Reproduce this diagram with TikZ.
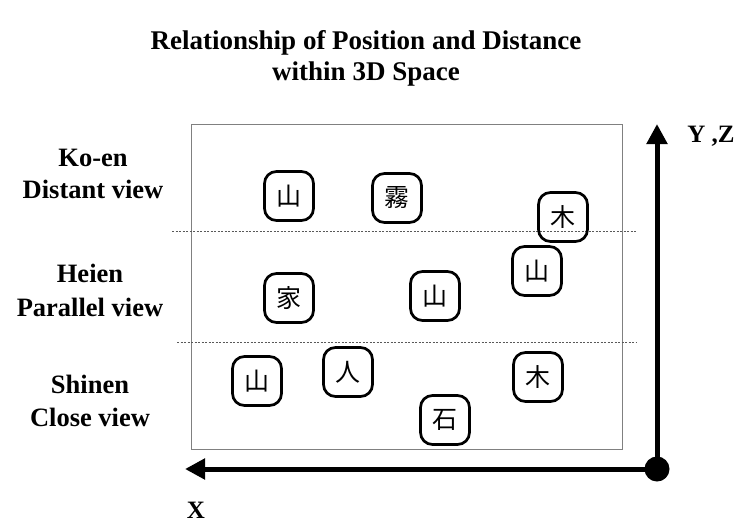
\documentclass[tikz,border=0pt]{standalone}
\usepackage{fontspec}
\setmainfont{Liberation Serif}
\newfontfamily\cjk{Noto Sans CJK JP}
\usetikzlibrary{arrows.meta}
\begin{document}
\begin{tikzpicture}[x=1pt,y=-1pt,
  lbl/.style={font=\fontsize{21}{25}\selectfont\bfseries, align=center, inner sep=0},
  kanji/.style={draw, line width=2.7pt, rounded corners=12pt, minimum width=49pt, minimum height=49pt, inner sep=0, font=\cjk\fontsize{25}{25}\selectfont},
  axis/.style={line width=5pt, -{Triangle[length=20pt,width=20pt]}},
  sep/.style={line width=0.7pt, gray!70!black, dash pattern=on 2pt off 1.5pt}]
\useasboundingbox (0,0) rectangle (740,531);
% title
\node[lbl, font=\fontsize{27}{31}\selectfont\bfseries] (title) at (366,58) {Relationship of Position and Distance\\within 3D Space};
% frame
\node[draw=gray, line width=1pt, minimum width=431pt, minimum height=325pt, inner sep=0] (frame) at (407,286.5) {};
% separators
\coordinate (d1a) at (172,231); \coordinate (d1b) at (637,231);
\coordinate (d2a) at (177,342); \coordinate (d2b) at (637,342);
\draw[sep] (d1a) -- (d1b);
\draw[sep] (d2a) -- (d2b);
% left labels
\node[lbl, font=\fontsize{26.5}{32}\selectfont\bfseries] (koen) at (93,174) {Ko-en\\Distant view};
\node[lbl, font=\fontsize{26.5}{34}\selectfont\bfseries] (heien) at (90,290) {Heien\\Parallel view};
\node[lbl, font=\fontsize{26.5}{33}\selectfont\bfseries] (shinen) at (90,401) {Shinen\\Close view};
% kanji boxes
\node[kanji] (k1) at (289,196) {山};
\node[kanji] (k2) at (397,198) {霧};
\node[kanji] (k3) at (563,217) {木};
\node[kanji] (k4) at (537,271) {山};
\node[kanji] (k5) at (289,298) {家};
\node[kanji] (k6) at (435,296) {山};
\node[kanji] (k7) at (257,381) {山};
\node[kanji] (k8) at (348,372) {人};
\node[kanji] (k9) at (538,377) {木};
\node[kanji] (k10) at (445,420) {石};
% axes
\node[circle, fill, minimum size=25pt, inner sep=0] (o) at (657,469) {};
\coordinate (ytip) at (657,124);
\coordinate (xtip) at (185,469);
\draw[axis] (o.center) -- (ytip);
\draw[axis] (o.center) -- (xtip);
\node[lbl, font=\fontsize{25}{24}\selectfont\bfseries] (ylab) at (711,136) {Y ,Z};
\node[lbl, font=\fontsize{25}{24}\selectfont\bfseries] (xlab) at (196,510) {X};
\end{tikzpicture}
\end{document}
